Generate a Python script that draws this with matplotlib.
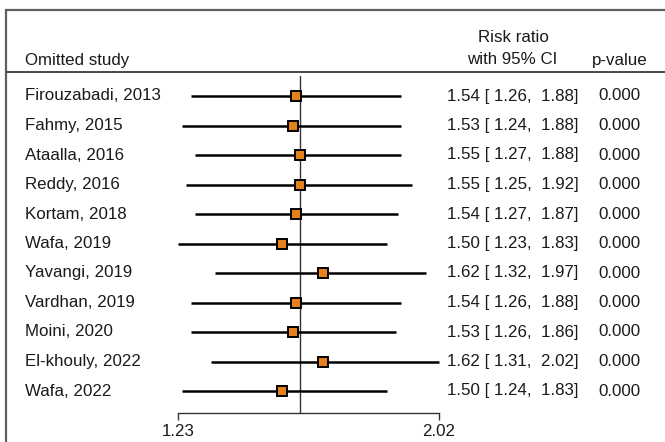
import numpy as np
import matplotlib.pyplot as plt
from matplotlib.patches import Rectangle

plt.rcParams['font.family'] = ['Liberation Sans', 'DejaVu Sans']

# leave-one-out results
studies = ['Firouzabadi, 2013', 'Fahmy, 2015', 'Ataalla, 2016', 'Reddy, 2016',
           'Kortam, 2018', 'Wafa, 2019', 'Yavangi, 2019', 'Vardhan, 2019',
           'Moini, 2020', 'El-khouly, 2022', 'Wafa, 2022']
rr = [1.54, 1.53, 1.55, 1.55, 1.54, 1.50, 1.62, 1.54, 1.53, 1.62, 1.50]
lo = [1.26, 1.24, 1.27, 1.25, 1.27, 1.23, 1.32, 1.26, 1.26, 1.31, 1.24]
hi = [1.88, 1.88, 1.88, 1.92, 1.87, 1.83, 1.97, 1.88, 1.86, 2.02, 1.83]
pval = ['0.000'] * len(studies)
overall = 1.55
xticks = [1.23, 2.02]

W, H = 665, 442
fig = plt.figure(figsize=(W / 100, H / 100), dpi=100)


def fx(px):
    return px / W


def fy(py):
    return 1 - py / H


# outer frame (runs off the right and bottom edges)
fig.patches.append(Rectangle((fx(6), fy(500)), fx(700), fy(10) - fy(500),
                             transform=fig.transFigure, fill=False,
                             edgecolor='#606060', linewidth=1.6))

# header
tc = '#1a1a1a'
fs = 12.2
fig.text(fx(25), fy(61), 'Omitted study', ha='left', va='center', fontsize=fs, color=tc)
fig.text(fx(513), fy(37), 'Risk ratio', ha='center', va='center', fontsize=fs, color=tc)
fig.text(fx(512), fy(60), 'with 95% CI', ha='center', va='center', fontsize=fs, color=tc)
fig.text(fx(592), fy(60), 'p-value', ha='left', va='center', fontsize=fs, color=tc)
fig.add_artist(plt.Line2D([fx(7), fx(665)], [fy(72), fy(72)],
                          transform=fig.transFigure, color='#3a3a3a', lw=1.3))

# plot area
top_px, bot_px = 76, 413
ax = fig.add_axes([fx(178), fy(bot_px), fx(439) - fx(178), (bot_px - top_px) / H])
ax.set_xscale('log')
ax.set_xlim(xticks[0], xticks[1])
row0, step = 96, 29.5
ax.set_ylim((bot_px - row0) / step, (top_px - row0) / step)
ax.patch.set_visible(False)

y = np.arange(len(studies))
ax.hlines(y, lo, hi, color='black', lw=1.8, clip_on=False)
ax.plot(rr, y, 's', ms=7.6, mfc='#E5801F', mec='black', mew=1.4,
        clip_on=False, zorder=3)
ax.axvline(overall, color='#333333', lw=1.0, zorder=1)

for s in ['top', 'right', 'left']:
    ax.spines[s].set_visible(False)
ax.spines['bottom'].set_bounds(xticks[0], xticks[1])
ax.spines['bottom'].set_color('#333333')
ax.spines['bottom'].set_linewidth(1.0)
ax.set_yticks([])
ax.xaxis.set_minor_locator(plt.NullLocator())
ax.set_xticks(xticks)
ax.set_xticklabels([f'{v:.2f}' for v in xticks])
ax.tick_params(axis='x', direction='out', length=5, width=1.0, color='#333333',
               labelsize=fs, labelcolor=tc, pad=3)

# study labels and result columns
for i, name in enumerate(studies):
    py = row0 + i * step
    fig.text(fx(25), fy(py), name, ha='left', va='center', fontsize=fs, color=tc)
    fig.text(fx(447), fy(py), f'{rr[i]:.2f} [ {lo[i]:.2f},  {hi[i]:.2f}]',
             ha='left', va='center', fontsize=fs, color=tc)
    fig.text(fx(598), fy(py), pval[i], ha='left', va='center', fontsize=fs, color=tc)

fig.text(fx(25), fy(452), 'Random-effects REML model', ha='left', va='center',
         fontsize=10, color='#555555')

fig.savefig('out.png', dpi=100)
